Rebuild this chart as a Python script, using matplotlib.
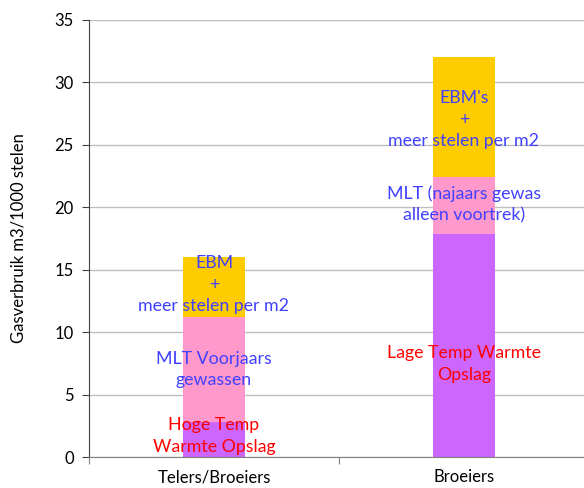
"""
Stacked bar chart of gas use per 1000 stems for two grower groups.
"""
import matplotlib
matplotlib.use("Agg")
import matplotlib.pyplot as plt
import numpy as np

categories = ["Telers/Broeiers", "Broeiers"]

# segment values (m3/1000 stelen), bottom to top
opslag = [2.8, 17.9]
mlt = [8.4, 4.5]
ebm = [4.8, 9.6]

seg_colors = ["#CC66FF", "#FF99CC", "#FFCC00"]

# annotation texts per bar: (text, y, colour)
labels_bar1 = [
    ("EBM\n+\nmeer stelen per m2", 13.8, "#4040FF"),
    ("MLT Voorjaars\ngewassen", 7.0, "#4040FF"),
    ("Hoge Temp\nWarmte Opslag", 1.7, "#FF0000"),
]
labels_bar2 = [
    ("EBM's\n+\nmeer stelen per m2", 27.0, "#4040FF"),
    ("MLT (najaars gewas\nalleen voortrek)", 20.2, "#4040FF"),
    ("Lage Temp Warmte\nOpslag", 7.45, "#FF0000"),
]


def main() -> None:
    plt.rcParams["font.family"] = ["Lato", "DejaVu Sans"]

    fig = plt.figure(figsize=(5.84, 4.88), dpi=100)
    ax = fig.add_axes([89 / 584, 1 - 457 / 488, 500 / 584, 437 / 488])

    x = np.arange(len(categories))
    width = 0.25
    bottom = np.zeros(len(categories))
    for vals, col in zip([opslag, mlt, ebm], seg_colors):
        ax.bar(x, vals, width, bottom=bottom, color=col, zorder=2)
        bottom += np.array(vals)

    for xi, labels in zip(x, [labels_bar1, labels_bar2]):
        for text, y, col in labels:
            ax.text(xi, y, text, ha="center", va="center", color=col,
                    fontsize=12.8, linespacing=1.42, zorder=3)

    ax.set_xlim(-0.5, 1.5)
    ax.set_ylim(0, 35)
    ax.set_yticks(range(0, 36, 5))
    ax.yaxis.grid(True, color="#BFBFBF", linewidth=1, zorder=0)
    ax.set_axisbelow(True)

    # category ticks sit on the boundaries between groups
    ax.set_xticks([-0.5, 0.5, 1.5])
    ax.set_xticklabels([])
    ax.set_xticks(x, minor=True)
    ax.set_xticklabels(categories, minor=True, fontsize=12)
    ax.tick_params(axis="x", which="minor", length=0, pad=9)
    ax.tick_params(axis="x", which="major", length=5, color="#808080")
    ax.tick_params(axis="y", length=5, labelsize=12, pad=6, color="#404040")

    ax.set_ylabel("Gasverbruik m3/1000 stelen", fontsize=12, labelpad=20)

    for side in ["top", "right"]:
        ax.spines[side].set_visible(False)
    ax.spines["left"].set_color("#404040")
    ax.spines["bottom"].set_color("#808080")

    fig.savefig("out.png", dpi=100)


if __name__ == "__main__":
    main()
